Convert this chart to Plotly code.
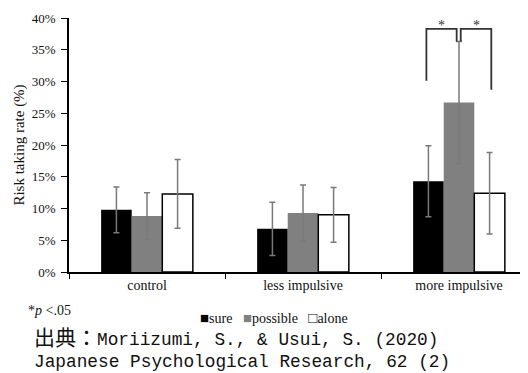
import plotly.graph_objects as go

categories = ["control", "less impulsive", "more impulsive"]
series_names = ["sure", "possible", "alone"]
sure_vals = [9.8, 6.8, 14.3]
possible_vals = [8.8, 9.3, 26.7]
alone_vals = [12.3, 9.0, 12.4]
sure_err = [3.6, 4.2, 5.6]
possible_err = [3.7, 4.4, 9.6]
alone_err = [5.4, 4.3, 6.4]
y_ticks = [0, 5, 10, 15, 20, 25, 30, 35, 40]
y_tick_labels = ["0%", "5%", "10%", "15%", "20%", "25%", "30%", "35%", "40%"]

# significance brackets in "more impulsive": (bar a, bar b)
sig_pairs = [(0, 1), (1, 2)]
bracket_top = 38.3
bracket_left_leg = [30.1, 36.3]
bracket_right_leg = [36.3, 28.7]

# page is drawn with an 8px body margin
OFF = 8
PAGE_W, PAGE_H = 528, 373
W, H = PAGE_W - OFF, PAGE_H - OFF
PL, PR, PT, PB = 69, 528, 18, 272          # plot area in page pixels
ML, MR, MT, MB = PL - OFF, PAGE_W - PR, PT - OFF, PAGE_H - PB
CAT_PX = 156                                # pixel width of one category
X_RANGE = [-0.5, -0.5 + (PR - PL) / CAT_PX]

def px(x):
    return (x - PL) / (PR - PL)

def py(y):
    return (PB - y) / (PB - PT)

SERIF = "Liberation Serif, Times New Roman, serif"

fig = go.Figure()
vals = [sure_vals, possible_vals, alone_vals]
errs = [sure_err, possible_err, alone_err]
fills = ["#000000", "#808080", "#ffffff"]
lines = [0, 0, 1.5]
for name, v, e, c, lw in zip(series_names, vals, errs, fills, lines):
    fig.add_trace(go.Bar(
        name=name, x=categories, y=v, showlegend=False,
        marker=dict(color=c, line=dict(color="#000000", width=lw)),
        error_y=dict(type="data", array=e, color="#7a7a7a", thickness=1.5, width=3),
    ))

bar_w = 0.196
BARGAP = 1 - 3 * bar_w
offsets = [-bar_w, 0, bar_w]
left_nudge = [-0.013, 0.011, 0.011]
right_nudge = [-0.013, -0.015, 0.011]
gi = categories.index("more impulsive")
for (a, b), yl, yr in zip(sig_pairs, bracket_left_leg, bracket_right_leg):
    xa = gi + offsets[a] + left_nudge[a]
    xb = gi + offsets[b] + right_nudge[b]
    fig.add_shape(type="path", xref="x", yref="y",
                  path=f"M {xa},{yl} L {xa},{bracket_top} L {xb},{bracket_top} L {xb},{yr}",
                  line=dict(color="#333333", width=1.8))
    fig.add_annotation(x=(xa + xb) / 2, y=bracket_top, xref="x", yref="y",
                       text="*", showarrow=False, yanchor="middle", yshift=3,
                       font=dict(family=SERIF, size=14, color="#333333"))

# legend drawn as text keys, built from the series
key_glyphs = ["■", "■", "□"]
key_colors = ["#000000", "#808080", "#000000"]
legend_text = "&nbsp;&nbsp;&nbsp;".join(
    f"<span style='color:{c};font-size:15px'>{g}</span>{n}"
    for g, c, n in zip(key_glyphs, key_colors, series_names)
)
fig.add_annotation(x=px(274), y=py(318), xref="paper", yref="paper",
                   text=legend_text, showarrow=False, xanchor="center", yanchor="middle",
                   font=dict(family=SERIF, size=14, color="#111111"))

fig.add_annotation(x=px(26), y=py(310), xref="paper", yref="paper",
                   text="*<i>p</i> <.05", showarrow=False, xanchor="left", yanchor="middle",
                   font=dict(family=SERIF, size=14, color="#111111"))
MONO = "Liberation Mono, Noto Sans CJK JP, monospace"
fig.add_annotation(x=px(32), y=py(339), xref="paper", yref="paper",
                   text="<span style='font-size:21px'>出典：</span>Moriizumi, S., & Usui, S. (2020)",
                   showarrow=False, xanchor="left", yanchor="middle",
                   font=dict(family=MONO, size=17.8, color="#111111"))
fig.add_annotation(x=px(32), y=py(362), xref="paper", yref="paper",
                   text="Japanese Psychological Research, 62 (2)",
                   showarrow=False, xanchor="left", yanchor="middle",
                   font=dict(family=MONO, size=17.8, color="#111111"))

fig.update_layout(
    width=W, height=H,
    margin=dict(l=ML, r=MR, t=MT, b=MB, autoexpand=False),
    paper_bgcolor="white", plot_bgcolor="white",
    barmode="group", bargap=BARGAP, bargroupgap=0,
    showlegend=False,
    font=dict(family=SERIF, color="#111111"),
)
fig.update_xaxes(
    type="category", range=X_RANGE, tickson="boundaries", ticks="outside", ticklen=5,
    tickcolor="#000000", showline=True, linecolor="#000000", linewidth=1.5,
    showgrid=False, automargin=False, ticklabelstandoff=-1,
    tickfont=dict(family=SERIF, size=14, color="#111111"),
)
fig.update_yaxes(
    range=[0, 40], tickvals=y_ticks, ticktext=y_tick_labels, ticks="outside", ticklen=6,
    tickcolor="#000000", showline=True, linecolor="#000000", linewidth=1.5,
    showgrid=False, zeroline=False, automargin=False, ticklabelstandoff=3,
    tickfont=dict(family=SERIF, size=13, color="#111111"),
    title=dict(text="Risk taking rate (%)", font=dict(family=SERIF, size=15, color="#111111"),
               standoff=4),
)

fig.write_html("out.html")
